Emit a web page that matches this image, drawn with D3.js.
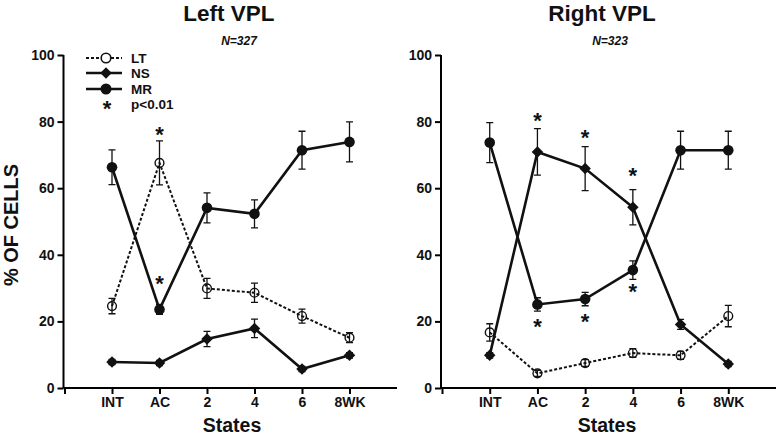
<!DOCTYPE html>
<html><head><meta charset="utf-8">
<script src="https://cdn.jsdelivr.net/npm/d3@7"></script>
<style>body{margin:0;background:#fff}svg{display:block}text{font-family:"Liberation Sans",Arial,sans-serif;font-weight:bold;fill:#111}</style>
</head><body><svg id="c" width="778" height="441"></svg>
<script>
const categories = ["INT","AC","2","4","6","8WK"];
const yTicks = [0,20,40,60,80,100];
const leftLT = [24.6,67.6,29.9,28.6,21.6,15.1];
const leftLTErr = [2.3,6.6,3.0,2.9,2.1,1.5];
const leftNS = [7.8,7.5,14.7,17.9,5.7,9.8];
const leftNSErr = [0.8,0.8,2.3,2.8,0.8,0.8];
const leftMR = [66.3,23.6,54.1,52.3,71.4,73.9];
const leftMRErr = [5.2,1.5,4.5,4.2,5.7,6.0];
const rightLT = [16.7,4.4,7.5,10.5,9.8,21.6];
const rightLTErr = [2.6,0.9,1.0,1.3,1.2,3.2];
const rightNS = [9.8,70.9,65.9,54.3,19.1,7.2];
const rightNSErr = [0.8,7.0,6.6,5.3,1.5,0.8];
const rightMR = [73.7,25.1,26.7,35.4,71.4,71.4];
const rightMRErr = [6.0,2.0,2.0,2.8,5.7,5.7];
// significance asterisks: [category index, value level where the asterisk sits]
const leftSig = [[1,77.0],[1,32.4]];
const rightSig = [[1,81.3],[2,76.2],[3,64.7],[1,19.4],[2,20.9],[3,29.9]];

const svg = d3.select("#c");
const sq = d3.symbol().type(d3.symbolSquare).size(66)();

function panel(o){
  const g = svg.append("g");
  const x = d3.scaleLinear().domain([0,7]).range(o.xr);
  const y = d3.scaleLinear().domain([0,100]).range([388,55]);
  // y axis
  const ya = g.append("g").attr("transform",`translate(${o.xr[0]-1},0)`)
    .call(d3.axisLeft(y).tickValues(yTicks).tickSize(6).tickPadding(3));
  ya.select(".domain").attr("stroke-width",2).attr("d",`M0,${y(100)}V${y(0)}`);
  ya.selectAll(".tick line").attr("stroke-width",2);
  ya.selectAll(".tick text").style("font-size","14px").attr("fill","#111");
  // x axis
  const xa = g.append("g").attr("transform",`translate(0,${y(0)})`)
    .call(d3.axisBottom(x).tickValues([0,1,2,3,4,5,6]).tickFormat(d=>d===0?"":categories[d-1]).tickSize(6).tickPadding(3));
  xa.select(".domain").attr("stroke-width",2).attr("d",`M${o.xr[0]-1},0H${o.xr[1]}`);
  xa.selectAll(".tick line").attr("stroke-width",2);
  xa.selectAll(".tick text").style("font-size","14px").attr("fill","#111");
  // titles
  g.append("text").attr("x",o.tx).attr("y",21).attr("text-anchor","middle").style("font-size","22.5px").text(o.title);
  g.append("text").attr("x",o.nx).attr("y",45).attr("text-anchor","middle").style("font-size","12px").style("font-style","italic").text(o.n);
  g.append("text").attr("x",o.sx).attr("y",432).attr("text-anchor","middle").style("font-size","19.5px").text("States");

  const series = {LT:[o.LT,o.LTe], NS:[o.NS,o.NSe], MR:[o.MR,o.MRe]};
  const line = d3.line().x((d,i)=>x(i+1)).y(d=>y(d));
  const order = ["LT","NS","MR"];
  // error bars
  order.forEach(k=>{
    const [v,e] = series[k];
    v.forEach((d,i)=>{
      const cx = x(i+1);
      g.append("path").attr("fill","none").attr("stroke","#111").attr("stroke-width",1.3)
        .attr("d",`M${cx},${y(d+e[i])}V${y(d-e[i])}M${cx-3.5},${y(d+e[i])}H${cx+3.5}M${cx-3.5},${y(d-e[i])}H${cx+3.5}`);
    });
  });
  // lines
  order.forEach(k=>{
    g.append("path").datum(series[k][0]).attr("fill","none").attr("stroke","#111")
      .attr("stroke-width",k==="LT"?2:2.6).attr("stroke-dasharray",k==="LT"?"3,2":null).attr("d",line);
  });
  // markers
  series.NS[0].forEach((d,i)=>{
    g.append("path").attr("d",sq).attr("transform",`translate(${x(i+1)},${y(d)}) rotate(45)`).attr("fill","#111");
  });
  series.MR[0].forEach((d,i)=>{
    g.append("circle").attr("cx",x(i+1)).attr("cy",y(d)).attr("r",5.3).attr("fill","#111");
  });
  series.LT[0].forEach((d,i)=>{
    g.append("circle").attr("cx",x(i+1)).attr("cy",y(d)).attr("r",4.4).attr("fill","none").attr("stroke","#111").attr("stroke-width",1.4);
  });
  // significance asterisks
  o.sig.forEach(([i,v])=>{
    g.append("text").attr("x",x(i+1)).attr("y",y(v)+10.5).attr("text-anchor","middle").style("font-size","22px").text("*");
  });
}

panel({xr:[64.5,397],tx:229,nx:239,sx:232,title:"Left VPL",n:"N=327",
  LT:leftLT,LTe:leftLTErr,NS:leftNS,NSe:leftNSErr,MR:leftMR,MRe:leftMRErr,sig:leftSig});
panel({xr:[442,776],tx:602,nx:610,sx:607,title:"Right VPL",n:"N=323",
  LT:rightLT,LTe:rightLTErr,NS:rightNS,NSe:rightNSErr,MR:rightMR,MRe:rightMRErr,sig:rightSig});

// y label
svg.append("text").attr("transform","translate(17.5,225) rotate(-90)").attr("text-anchor","middle").style("font-size","20px").text("% OF CELLS");

// legend
const legend = [["LT","open"],["NS","diamond"],["MR","filled"]];
const lg = svg.append("g");
const ly = [58,73,89];
legend.forEach(([name,type],i)=>{
  const yy = ly[i];
  lg.append("path").attr("d",`M86,${yy}H122`).attr("stroke","#111").attr("stroke-width",type==="open"?2:2.6).attr("stroke-dasharray",type==="open"?"3,2":null);
  if(type==="open") lg.append("circle").attr("cx",106).attr("cy",yy).attr("r",4.8).attr("fill","#fff").attr("stroke","#111").attr("stroke-width",1.6);
  if(type==="diamond") lg.append("path").attr("d",sq).attr("transform",`translate(106,${yy}) rotate(45)`).attr("fill","#111");
  if(type==="filled") lg.append("circle").attr("cx",106).attr("cy",yy).attr("r",5.5).attr("fill","#111");
  lg.append("text").attr("x",131).attr("y",yy+5).style("font-size","13.5px").text(name);
});
lg.append("text").attr("x",107).attr("y",116).attr("text-anchor","middle").style("font-size","22px").text("*");
lg.append("text").attr("x",131).attr("y",109).style("font-size","13.5px").text("p<0.01");
</script></body></html>
